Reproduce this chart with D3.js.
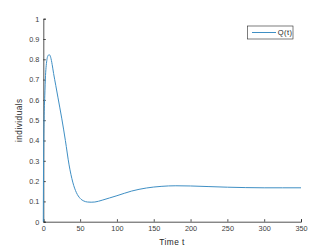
<!DOCTYPE html>
<html>
<head>
<meta charset="utf-8">
<script src="https://cdn.jsdelivr.net/npm/d3@7"></script>
<style>
  body { margin: 0; background: #fff; }
  text { font-family: "Liberation Sans", Arial, sans-serif; }
</style>
</head>
<body>
<svg id="chart"></svg>
<script>
// values
const timeValues = [0, 0.3, 0.6, 1, 2, 3, 4, 5, 6, 8, 10, 12, 14, 17, 20, 25, 30, 35, 40, 45, 50, 55, 60, 65, 70, 80, 90, 100, 120, 140, 160, 180, 200, 225, 250, 275, 300, 325, 350];
const qValues = [0, 0.25, 0.4, 0.5, 0.62, 0.72, 0.77, 0.8, 0.815, 0.823, 0.81, 0.775, 0.73, 0.67, 0.61, 0.51, 0.4, 0.28, 0.195, 0.143, 0.115, 0.102, 0.097, 0.096, 0.097, 0.106, 0.117, 0.128, 0.151, 0.166, 0.174, 0.177, 0.176, 0.173, 0.17, 0.168, 0.167, 0.167, 0.167];
const xTicks = [0, 50, 100, 150, 200, 250, 300, 350];
const yTicks = [0, 0.1, 0.2, 0.3, 0.4, 0.5, 0.6, 0.7, 0.8, 0.9, 1];
const seriesName = "Q(t)";

const W = 332, H = 249;
const margin = { top: 18.7, right: 31, bottom: 27.3, left: 43.3 };
const width = W - margin.left - margin.right;
const height = H - margin.top - margin.bottom;

const svg = d3.select("#chart").attr("width", W).attr("height", H);
const chart = svg.append("g").attr("transform", `translate(${margin.left},${margin.top})`);

const x = d3.scaleLinear().domain([0, 350]).range([0, width]);
const y = d3.scaleLinear().domain([0, 1]).range([height, 0]);

const axisColor = "#262626";

// x axis (ticks inside)
const gx = chart.append("g")
    .attr("transform", `translate(0,${height})`)
    .call(d3.axisBottom(x).tickValues(xTicks).tickSize(-2.5).tickPadding(5).tickFormat(d3.format("d")));
gx.select(".domain").attr("stroke", axisColor).attr("stroke-width", 0.8);
gx.selectAll(".tick line").attr("stroke", axisColor).attr("stroke-width", 0.8);
gx.selectAll("text").attr("fill", "#404040").style("font-size", "7.3px").attr("dy", "0.55em");

// y axis
const gy = chart.append("g")
    .call(d3.axisLeft(y).tickValues(yTicks).tickSize(-2.5).tickPadding(4).tickFormat(d => d === 0 || d === 1 ? d3.format("d")(d) : d3.format(".1f")(d)));
gy.select(".domain").attr("stroke", axisColor).attr("stroke-width", 0.8);
gy.selectAll(".tick line").attr("stroke", axisColor).attr("stroke-width", 0.8);
gy.selectAll("text").attr("fill", "#404040").style("font-size", "7.3px");

// axis labels
chart.append("text")
    .attr("x", 172 - margin.left)
    .attr("y", height + 23.5)
    .attr("text-anchor", "middle")
    .attr("fill", "#262626")
    .style("font-size", "8.3px")
    .style("letter-spacing", "0.45px")
    .text("Time t");

chart.append("text")
    .attr("transform", "rotate(-90)")
    .attr("x", -height / 2)
    .attr("y", -21)
    .attr("text-anchor", "middle")
    .attr("fill", "#262626")
    .style("font-size", "8.3px")
    .style("letter-spacing", "0.45px")
    .text("individuals");

// the curve
const data = timeValues.map((t, i) => ({ t: t, q: qValues[i] }));
const line = d3.line()
    .x(d => x(d.t))
    .y(d => y(d.q))
    .curve(d3.curveMonotoneX);

chart.append("path")
    .datum(data)
    .attr("fill", "none")
    .attr("stroke", "#3f8fc4")
    .attr("stroke-width", 1)
    .attr("d", line);

// legend
const legend = svg.append("g").attr("transform", "translate(247.5,26)");
legend.append("rect")
    .attr("width", 45.5)
    .attr("height", 13)
    .attr("fill", "#fff")
    .attr("stroke", "#262626")
    .attr("stroke-width", 0.6);
legend.append("line")
    .attr("x1", 4.5).attr("x2", 28.5)
    .attr("y1", 6.5).attr("y2", 6.5)
    .attr("stroke", "#3f8fc4")
    .attr("stroke-width", 1);
legend.append("text")
    .attr("x", 30.3)
    .attr("y", 9.2)
    .attr("fill", "#262626")
    .style("font-size", "7.5px")
    .style("letter-spacing", "0.4px")
    .text(seriesName);
</script>
</body>
</html>
